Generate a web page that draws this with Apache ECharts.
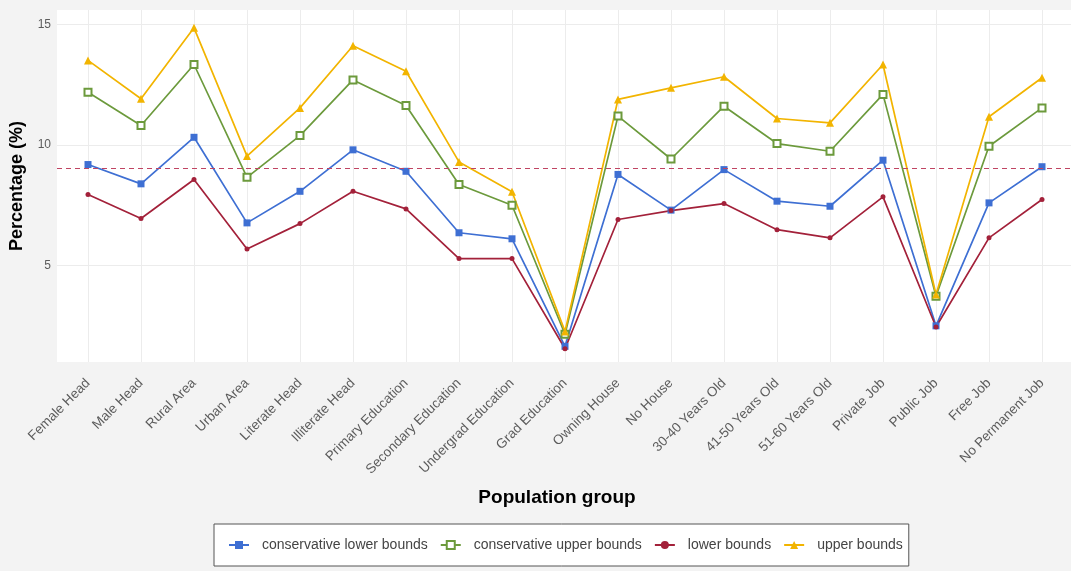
<!DOCTYPE html>
<html>
<head>
<meta charset="utf-8">
<script src="https://cdn.jsdelivr.net/npm/echarts@6/dist/echarts.min.js"></script>
<style>
  html, body { margin: 0; padding: 0; background: #f3f3f3; }
  #chart { width: 1071px; height: 571px; }
</style>
</head>
<body>
<div id="chart"></div>
<script>
// Population groups along the x axis
const categories = [
  'Female Head', 'Male Head', 'Rural Area', 'Urban Area', 'Literate Head',
  'Illiterate Head', 'Primary Education', 'Secondary Education', 'Undergrad Education',
  'Grad Education', 'Owning House', 'No House', '30-40 Years Old', '41-50 Years Old',
  '51-60 Years Old', 'Private Job', 'Public Job', 'Free Job', 'No Permanent Job'
];

// Percentage estimates per group (%)
const conservativeLower = [9.19, 8.39, 10.32, 6.77, 8.08, 9.80, 8.91, 6.36, 6.11, 1.65,
  8.78, 7.30, 8.98, 7.67, 7.46, 9.37, 2.50, 7.60, 9.10];
const conservativeUpper = [12.19, 10.81, 13.34, 8.66, 10.39, 12.70, 11.64, 8.36, 7.50, 2.15,
  11.20, 9.42, 11.61, 10.06, 9.74, 12.10, 3.73, 9.95, 11.54];
const lowerBounds = [7.95, 6.95, 8.57, 5.69, 6.74, 8.08, 7.35, 5.29, 5.29, 1.55,
  6.91, 7.28, 7.57, 6.49, 6.15, 7.85, 2.45, 6.15, 7.74];
const upperBounds = [13.51, 11.92, 14.86, 9.54, 11.54, 14.12, 13.06, 9.30, 8.06, 2.27,
  11.89, 12.37, 12.83, 11.10, 10.92, 13.34, 3.80, 11.17, 12.79];

// Reference level drawn as a dashed horizontal line
const referenceLevel = 9.05;

// y axis tick labels
const yTicks = [5, 10, 15];

const FONT = '"Liberation Sans", Arial, sans-serif';
const Y_MIN = 1.0, Y_MAX = 15.6;

const chart = echarts.init(document.getElementById('chart'), null, { renderer: 'canvas' });

function lineSeries(name, data, color, symbol, size) {
  return {
    name: name,
    type: 'line',
    xAxisIndex: 1,
    yAxisIndex: 1,
    data: data,
    symbol: symbol,
    symbolSize: size,
    showAllSymbol: true,
    lineStyle: { color: color, width: 1.7 },
    itemStyle: { color: color, borderColor: color, borderWidth: symbol.indexOf('empty') === 0 ? 1.2 : 0 },
    emphasis: { disabled: true },
    animation: false,
    z: 3
  };
}

const option = {
  backgroundColor: '#f3f3f3',
  animation: false,
  grid: [
    // full-width panel: white background and horizontal grid lines
    { left: 57, right: 0, top: 10, bottom: 209, show: true, backgroundColor: '#ffffff', borderWidth: 0 },
    // category positions for the data lines
    { left: 88, right: 29, top: 10, bottom: 209 }
  ],
  xAxis: [
    { gridIndex: 0, type: 'value', min: 0, max: 1, show: false },
    {
      gridIndex: 1,
      type: 'category',
      data: categories,
      boundaryGap: false,
      axisLine: { show: false },
      axisTick: { show: false },
      axisLabel: {
        rotate: 45,
        interval: 0,
        margin: 19,
        color: '#5c5c5c',
        fontFamily: FONT,
        fontSize: 13.5
      },
      splitLine: { show: true, lineStyle: { color: '#ececec', width: 1 } },
      name: 'Population group',
      nameLocation: 'middle',
      nameGap: 126,
      nameTextStyle: { fontFamily: FONT, fontSize: 19, fontWeight: 'bold', color: '#000', padding: [0, 16, 0, 0] }
    }
  ],
  yAxis: [
    {
      gridIndex: 0,
      type: 'value',
      min: Y_MIN,
      max: Y_MAX,
      axisLine: { show: false },
      axisTick: { show: false, customValues: yTicks },
      axisLabel: {
        customValues: yTicks,
        margin: 6,
        color: '#5c5c5c',
        fontFamily: FONT,
        fontSize: 12
      },
      splitLine: { show: true, lineStyle: { color: '#ececec', width: 1 } },
      name: 'Percentage (%)',
      nameLocation: 'middle',
      nameRotate: 90,
      nameGap: 31,
      nameTextStyle: { fontFamily: FONT, fontSize: 18, fontWeight: 'bold', color: '#000' }
    },
    { gridIndex: 1, type: 'value', min: Y_MIN, max: Y_MAX, show: false, splitLine: { show: false } }
  ],
  legend: {
    data: ['conservative lower bounds', 'conservative upper bounds', 'lower bounds', 'upper bounds'],
    left: 214,
    bottom: 5,
    orient: 'horizontal',
    backgroundColor: '#ffffff',
    borderColor: '#555555',
    borderWidth: 1,
    borderRadius: 0,
    padding: [14, 6, 14, 14],
    itemGap: 12,
    itemWidth: 20,
    itemHeight: 10,
    textStyle: { fontFamily: FONT, fontSize: 14, color: '#444444', padding: [0, 0, 0, 8] }
  },
  series: [
    {
      name: 'reference',
      type: 'line',
      xAxisIndex: 0,
      yAxisIndex: 0,
      data: [],
      silent: true,
      markLine: {
        silent: true,
        symbol: ['none', 'none'],
        label: { show: false },
        lineStyle: { color: '#c04462', type: [5, 4], width: 1 },
        data: [{ yAxis: referenceLevel }],
        animation: false
      }
    },
    lineSeries('conservative lower bounds', conservativeLower, '#3e6fd3', 'rect', 7),
    lineSeries('conservative upper bounds', conservativeUpper, '#6c9a3c', 'emptyRect', 7),
    lineSeries('lower bounds', lowerBounds, '#a3213a', 'circle', 5),
    lineSeries('upper bounds', upperBounds, '#f2b400', 'triangle', 8)
  ]
};

chart.setOption(option);
</script>
</body>
</html>
